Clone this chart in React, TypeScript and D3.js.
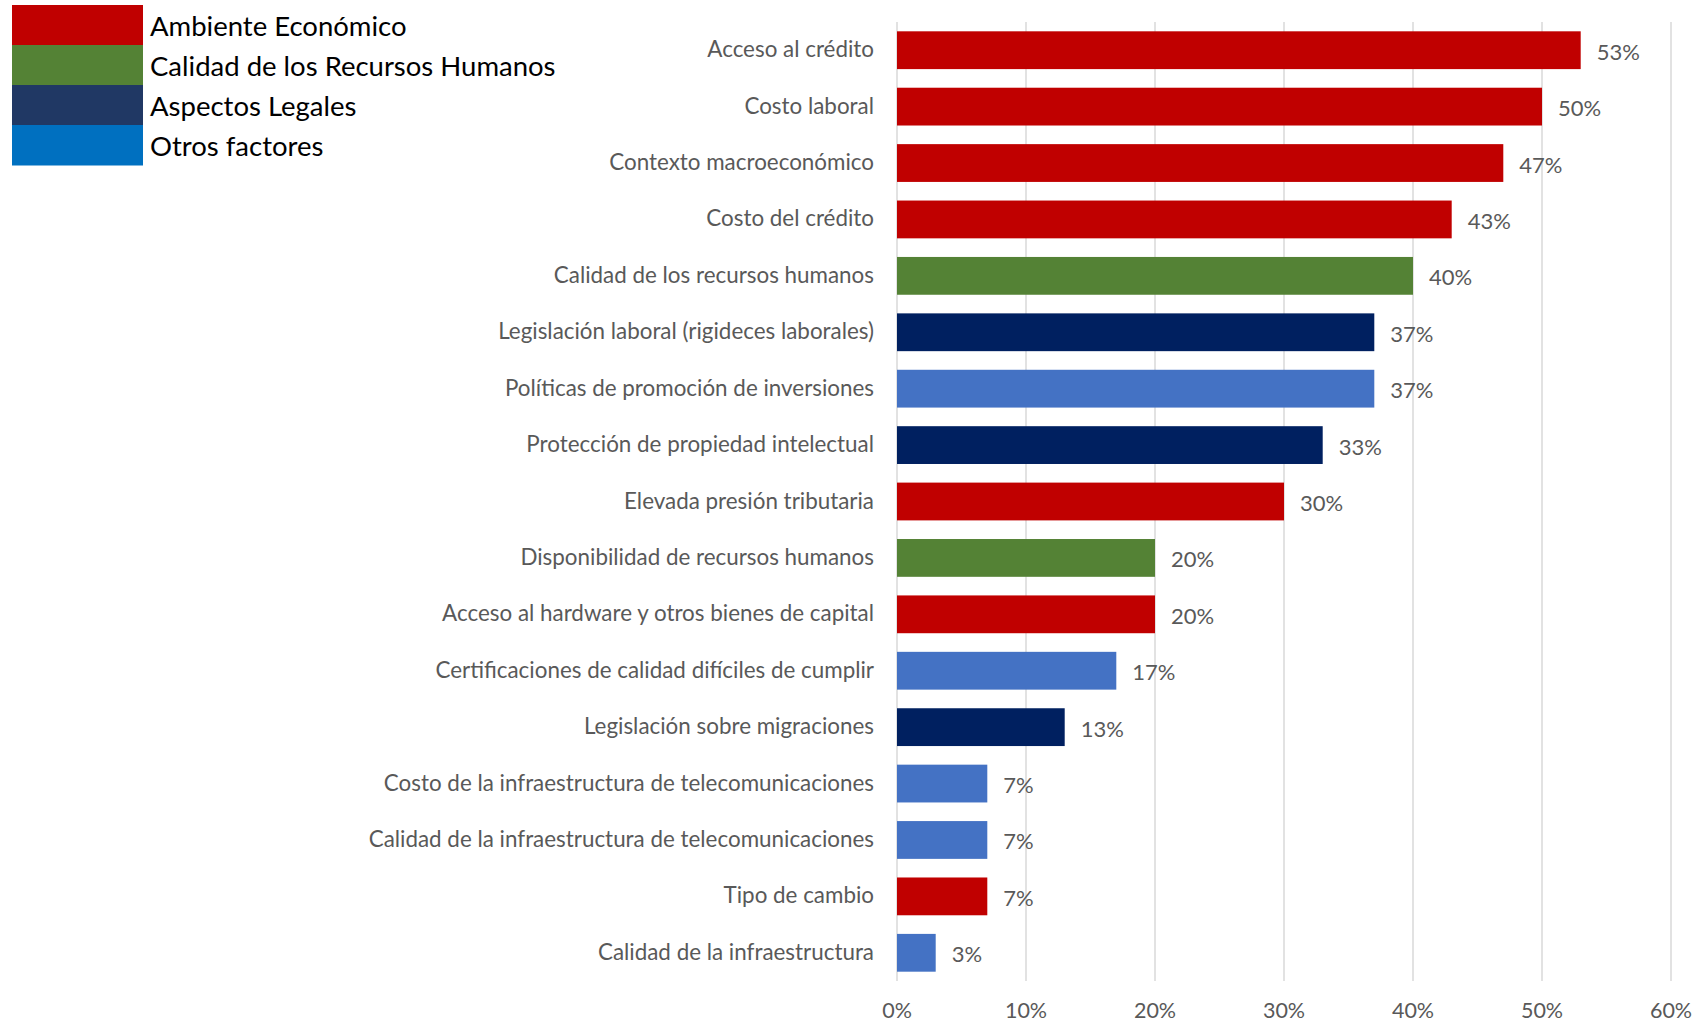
import React from "react";
import * as d3 from "d3";

const categories = [
  "Acceso al crédito",
  "Costo laboral",
  "Contexto macroeconómico",
  "Costo del crédito",
  "Calidad de los recursos humanos",
  "Legislación laboral (rigideces laborales)",
  "Políticas de promoción de inversiones",
  "Protección de propiedad intelectual",
  "Elevada presión tributaria",
  "Disponibilidad de recursos humanos",
  "Acceso al hardware y otros bienes de capital",
  "Certificaciones de calidad difíciles de cumplir",
  "Legislación sobre migraciones",
  "Costo de la infraestructura de telecomunicaciones",
  "Calidad de la infraestructura de telecomunicaciones",
  "Tipo de cambio",
  "Calidad de la infraestructura",
];
const values = [53, 50, 47, 43, 40, 37, 37, 33, 30, 20, 20, 17, 13, 7, 7, 7, 3];
const groups = [0, 0, 0, 0, 1, 2, 3, 2, 0, 1, 0, 3, 2, 3, 3, 0, 3];
const groupNames = [
  "Ambiente Económico",
  "Calidad de los Recursos Humanos",
  "Aspectos Legales",
  "Otros factores",
];
const barColors = ["#C00000", "#548235", "#002060", "#4472C4"];
const legendColors = ["#C00000", "#548235", "#203864", "#0070C0"];
const ticks = [0, 10, 20, 30, 40, 50, 60];

const FONT = "Lato, 'Open Sans', sans-serif";

export default function App() {
  const W = 1696;
  const H = 1024;
  const x = d3.scaleLinear().domain([0, 60]).range([897, 1671]);
  const y = d3
    .scaleBand<string>()
    .domain(categories)
    .range([22, 981])
    .paddingInner(0.33)
    .paddingOuter(0.165);
  const lh = 40;
  return (
    <svg
      width={W}
      height={H}
      style={{ position: "absolute", left: 0, top: 0, background: "#fff" }}
      fontFamily={FONT}
    >
      {ticks.map((t) => (
        <g key={t}>
          <line
            x1={x(t)}
            x2={x(t)}
            y1={22}
            y2={981}
            stroke="#D9D9D9"
            strokeWidth={1.5}
          />
          <text
            x={x(t)}
            y={1010}
            textAnchor="middle"
            dominantBaseline="central"
            fontSize={21.5}
            fill="#595959"
          >
            {t}%
          </text>
        </g>
      ))}
      {categories.map((c, i) => {
        const yy = y(c)!;
        const bw = y.bandwidth();
        return (
          <g key={c}>
            <rect
              x={x(0)}
              y={yy}
              width={x(values[i]) - x(0)}
              height={bw}
              fill={barColors[groups[i]]}
            />
            <text
              x={874}
              y={yy + bw / 2 - 1.5}
              textAnchor="end"
              dominantBaseline="central"
              fontSize={22.4}
              fill="#595959"
            >
              {c}
            </text>
            <text
              x={x(values[i]) + 16}
              y={yy + bw / 2 + 1}
              dominantBaseline="central"
              fontSize={22}
              fill="#595959"
            >
              {values[i]}%
            </text>
          </g>
        );
      })}
      {groupNames.map((g, i) => (
        <g key={g}>
          <rect
            x={12}
            y={5 + i * lh}
            width={131}
            height={lh + 0.5}
            fill={legendColors[i]}
          />
          <text
            x={150}
            y={5 + i * lh + lh / 2}
            dominantBaseline="central"
            fontSize={27.5}
            fill="#000"
          >
            {g}
          </text>
        </g>
      ))}
    </svg>
  );
}
